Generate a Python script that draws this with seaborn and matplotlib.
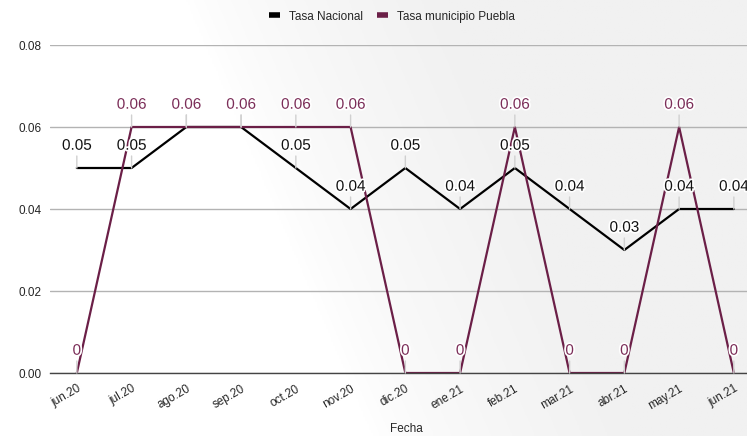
import matplotlib
matplotlib.use("Agg")
import matplotlib.pyplot as plt
import matplotlib.patheffects as pe
from matplotlib.lines import Line2D
import numpy as np
import pandas as pd
import seaborn as sns

fechas = ["jun.20", "jul.20", "ago.20", "sep.20", "oct.20", "nov.20", "dic.20",
          "ene.21", "feb.21", "mar.21", "abr.21", "may.21", "jun.21"]
tasa_nacional = [0.05, 0.05, 0.06, 0.06, 0.05, 0.04, 0.05, 0.04, 0.05, 0.04, 0.03, 0.04, 0.04]
tasa_puebla = [0, 0.06, 0.06, 0.06, 0.06, 0.06, 0, 0, 0.06, 0, 0, 0.06, 0]

series = ["Tasa Nacional", "Tasa municipio Puebla"]
colors = {"Tasa Nacional": "#000000", "Tasa municipio Puebla": "#6b1f47"}
label_colors = {"Tasa Nacional": "#111111", "Tasa municipio Puebla": "#7b2d58"}

df = pd.DataFrame({
    "Fecha": fechas * 2,
    "idx": list(range(len(fechas))) * 2,
    "valor": tasa_nacional + tasa_puebla,
    "serie": [series[0]] * len(fechas) + [series[1]] * len(fechas),
})

sns.set_theme(style="white")
plt.rcParams["font.family"] = ["Liberation Sans", "DejaVu Sans"]

fig = plt.figure(figsize=(7.47, 4.36), dpi=100)

# soft background shading, white on the left, pale grey towards the right
bg = fig.add_axes([0, 0, 1, 1], zorder=-10)
gx = np.linspace(0, 1, 400)
gy = np.linspace(0, 1, 240)
X, Y = np.meshgrid(gx, gy)
shade = np.clip((X + 0.25 * Y - 0.5) / 0.35, 0, 1) ** 0.7
bg.imshow(shade, aspect="auto", origin="lower", extent=[0, 1, 0, 1],
          cmap=matplotlib.colors.LinearSegmentedColormap.from_list("bg", ["#ffffff", "#f1f1f1"]))
bg.axis("off")

ax = fig.add_axes([50 / 747, (436 - 373) / 436, 697 / 747, (373 - 45) / 436])
ax.patch.set_alpha(0)

sns.lineplot(data=df, x="idx", y="valor", hue="serie", palette=colors,
             linewidth=1.6, ax=ax, legend=False, sort=False)

for name, vals in zip(series, [tasa_nacional, tasa_puebla]):
    for i, v in enumerate(vals):
        txt = "0" if v == 0 else f"{v:.2f}"
        ax.annotate(txt, xy=(i, v), xytext=(0, 11), textcoords="offset points",
                    ha="center", va="bottom", fontsize=11, color=label_colors[name],
                    arrowprops=dict(arrowstyle="-", color="#d0d0d0", lw=1,
                                    shrinkA=0, shrinkB=0),
                    path_effects=[pe.withStroke(linewidth=2.5, foreground="white")],
                    zorder=5)

ax.set_xlim(-0.49, 12.24)
ax.set_ylim(0, 0.08)
ax.set_yticks([0, 0.02, 0.04, 0.06, 0.08])
ax.set_yticklabels([f"{t:.2f}" for t in [0, 0.02, 0.04, 0.06, 0.08]], fontsize=8.5)
ax.set_xticks(range(len(fechas)))
ax.set_xticklabels(fechas, rotation=30, ha="right", rotation_mode="anchor", fontsize=8.5)
ax.tick_params(axis="x", pad=7, length=0)
ax.tick_params(axis="y", pad=6, length=0)
ax.yaxis.grid(True, color="#b3b3b3", linewidth=1)
ax.xaxis.grid(False)
for s in ["top", "right", "left"]:
    ax.spines[s].set_visible(False)
ax.spines["bottom"].set_color("#444444")
ax.spines["bottom"].set_linewidth(1)
ax.set_xlabel("")
ax.set_ylabel("")
fig.text(406 / 747, 7 / 436, "Fecha", ha="center", va="center", fontsize=8.5)

handles = [Line2D([0], [0], color=colors[s], linewidth=4, solid_capstyle="butt") for s in series]
fig.legend(handles, series, loc="upper center", bbox_to_anchor=(0.525, 1.0), ncol=2,
           frameon=False, fontsize=8.5, handlelength=0.9, columnspacing=1.2, handletextpad=0.8)

fig.savefig("out.png", dpi=100)
